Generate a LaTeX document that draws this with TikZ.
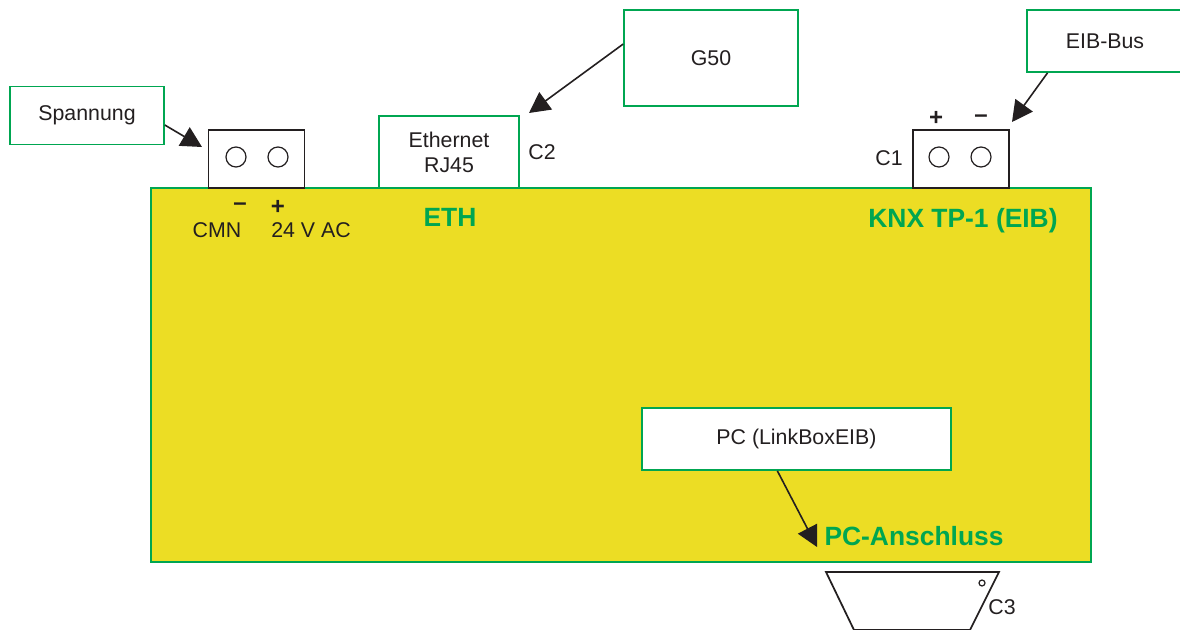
\documentclass[tikz,border=0pt]{standalone}
\usepackage{fontspec}
\setmainfont{Liberation Sans}
\usetikzlibrary{arrows.meta}
\definecolor{YL}{RGB}{236,221,36}
\definecolor{GN}{RGB}{0,166,81}
\definecolor{DG}{RGB}{35,31,32}
\begin{document}
\begin{tikzpicture}[
  x=0.75pt, y=-0.75pt,
  gbox/.style={draw=GN, fill=white, line width=1.3pt, inner sep=0pt, align=center,
               font=\fontsize{16pt}{18.8pt}\selectfont, text=DG},
  conn/.style={draw=DG, fill=white, line width=1.3pt, inner sep=0pt,
               minimum width=72pt, minimum height=43.5pt},
  pin/.style={circle, draw=DG, fill=white, line width=0.9pt, inner sep=0pt, minimum size=15pt},
  arr/.style={-{Triangle[length=15.5pt,width=16pt]}, line width=1.2pt, draw=DG},
  lbl/.style={font=\fontsize{16pt}{18pt}\selectfont, text=DG, inner sep=0pt},
  sgn/.style={font=\fontsize{18pt}{18pt}\selectfont\bfseries, text=DG, inner sep=0pt},
  ttl/.style={font=\fontsize{19.8pt}{22pt}\selectfont\bfseries, text=GN, inner sep=0pt}
]
\useasboundingbox (0,0) rectangle (1180,630);
\clip (0,0) rectangle (1180,630);

\node[draw=GN, fill=YL, line width=2.2pt, inner sep=0pt,
      minimum width=705pt, minimum height=280.5pt] (body) at (621,375) {};

\node[gbox, minimum width=115.5pt, minimum height=43.5pt] (spg) at (87,115.5) {Spannung};
\node[gbox, minimum width=105pt, minimum height=54pt] (eth) at (449,152) {Ethernet\\RJ45};
\node[gbox, minimum width=130.5pt, minimum height=72pt] (g50) at (711,58) {G50};
\node[gbox, minimum width=117pt, minimum height=46.5pt] (bus) at (1105,41) {EIB-Bus};
\node[gbox, minimum width=231.75pt, minimum height=46.5pt] (pcl) at (796.5,439) {PC (LinkBoxEIB)};

\node[conn] (c24) at (256.5,159) {};
\node[conn] (ceib) at (961,159) {};
\node[pin] (p1) at (236,157) {};
\node[pin] (p2) at (278,157) {};
\node[pin] (p3) at (939,157) {};
\node[pin] (p4) at (981,157) {};

% plug at the bottom
\coordinate (d1) at (826,572);
\coordinate (d2) at (999,572);
\coordinate (d3) at (970,630);
\coordinate (d4) at (854,630);
\draw[draw=DG, fill=white, line width=1.3pt] (d4) -- (d1) -- (d2) -- (d3) -- cycle;
\node[pin, minimum size=4.5pt] (p5) at (982,583) {};

\coordinate (t1) at (202,147);
\coordinate (t2) at (529,113);
\coordinate (t3) at (1012,122);
\coordinate (t4) at (817,547);
\draw[arr] (spg.-7.4) -- (t1);
\draw[arr] (g50.171) -- (t2);
\draw[arr] (bus.209) -- (t3);
\draw[arr] (pcl.239) -- (t4);

\node[sgn] (m1) at (240,207) {–};
\node[sgn] (s1) at (278,207) {+};
\node[lbl] (cmn) at (217,230) {CMN};
\node[lbl] (vac) at (311,230) {24 V AC};
\node[sgn] (s2) at (936,118) {+};
\node[sgn] (m2) at (981,119) {–};
\node[lbl] (c1) at (889,158) {C1};
\node[lbl] (c2) at (542,152) {C2};
\node[lbl] (c3) at (1002,607) {C3};

\node[ttl] (teth) at (450,217) {ETH};
\node[ttl] (tknx) at (963,221) {KNX TP-1 (EIB)};
\node[ttl] (tpc) at (914,536) {PC-Anschluss};
\end{tikzpicture}
\end{document}
